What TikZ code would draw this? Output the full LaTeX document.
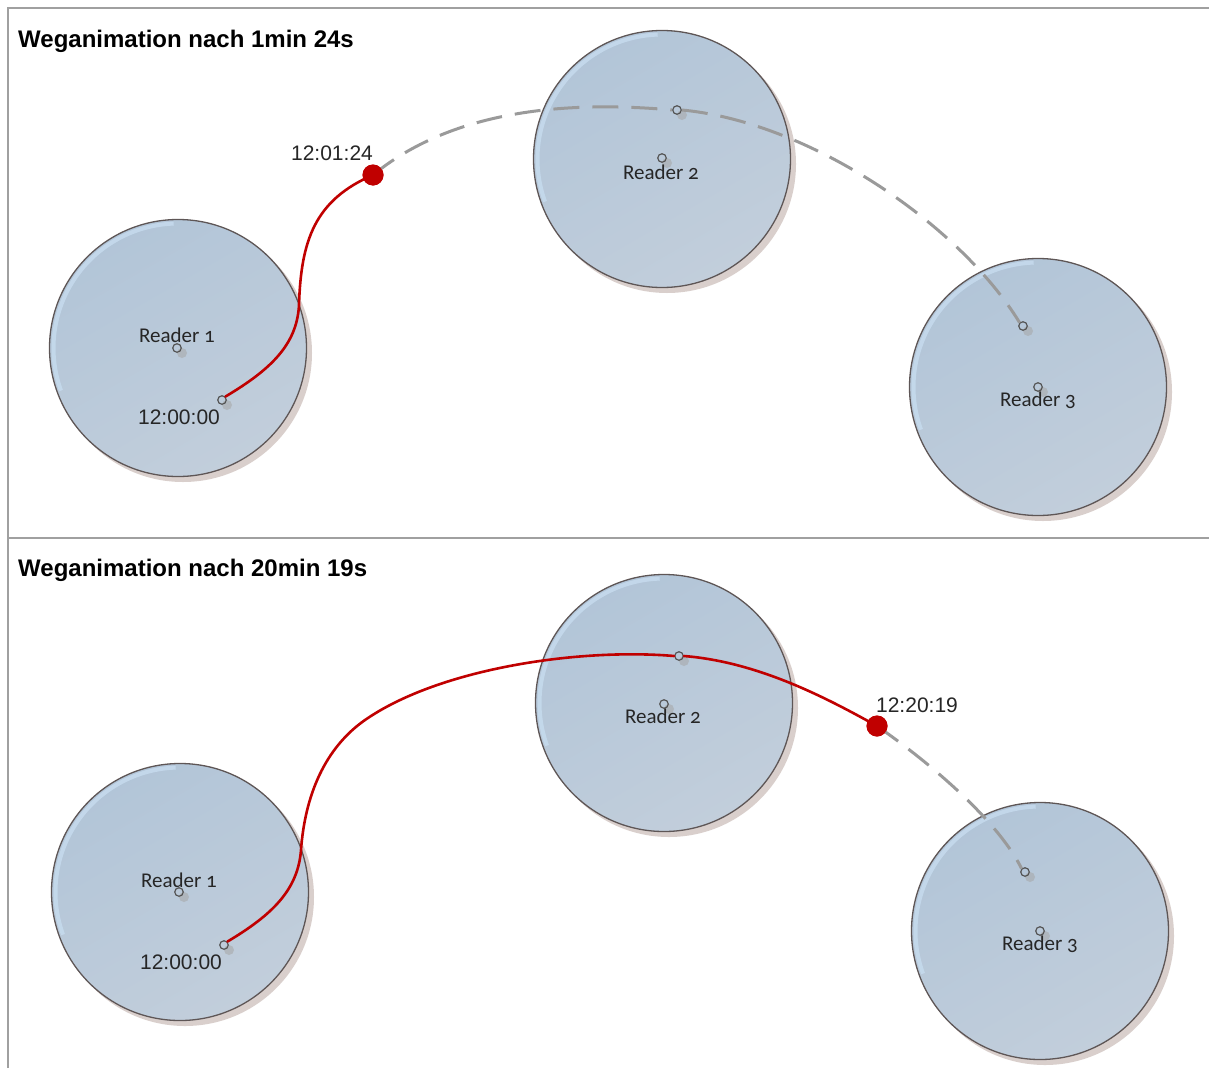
\documentclass[tikz,border=0pt]{standalone}
\usepackage{fontspec}
\setmainfont{Liberation Sans}
\newfontfamily\readerfont[Numbers=OldStyle]{Carlito}
\usetikzlibrary{calc}

\definecolor{framegray}{HTML}{A0A0A0}
\definecolor{rimgray}{HTML}{5E5656}
\definecolor{shadowtan}{HTML}{D9CFCC}
\definecolor{fillA}{HTML}{B2C5D8}
\definecolor{fillB}{HTML}{C2CEDB}
\definecolor{glow}{HTML}{C6DBEE}
\definecolor{trackred}{HTML}{C00000}
\definecolor{pathgray}{HTML}{9A9A9A}
\definecolor{ptgray}{HTML}{555555}

\tikzset{
  x=1pt, y=-1pt,
  frameline/.style={draw=framegray, line width=1.5pt},
  title/.style={font=\bfseries\fontsize{24}{28}\selectfont, anchor=base west, inner sep=0pt},
  readerlbl/.style={font=\readerfont\fontsize{21}{25}\selectfont, text=black!85, inner sep=0pt},
  timelbl/.style={font=\fontsize{21}{25}\selectfont, text=black!85, inner sep=0pt},
  zone/.style={circle, minimum size=257pt, inner sep=0pt},
  ptnode/.style={circle, minimum size=8.5pt, inner sep=0pt, draw=ptgray, line width=1.2pt},
  redtrack/.style={draw=trackred, line width=2.6pt, line cap=round},
  graytrack/.style={draw=pathgray, line width=3pt, dash pattern=on 26pt off 13pt},
  reddot/.style={circle, fill=trackred, minimum size=21pt, inner sep=0pt},
}

% reader zone: shadow, shaded disc, rim highlight and outline
\newcommand{\readerzone}[2]{%
  \fill[shadowtan] ($(#2)+(5,5)$) circle (129);
  \shade[top color=fillA, bottom color=fillB, shading angle=30] (#2) circle (128.5);
  \draw[glow, line width=4pt, opacity=0.85] ($(#2)+(-92:124.5)$) arc (-92:-200:124.5);
  \node[zone, draw=rimgray, line width=1.3pt] (#1) at (#2) {};
}
% small location marker with its soft drop shadow
\newcommand{\locpoint}[2]{%
  \fill[black!35, opacity=0.55] ($(#2)+(5,5)$) circle (5);
  \node[ptnode] (#1) at (#2) {};
}

\begin{document}
\begin{tikzpicture}
\useasboundingbox (0,0) rectangle (1209,1068);

% frame and divider
\coordinate (fbl) at (8,1068);
\coordinate (ftl) at (8,8);
\coordinate (ftr) at (1209,8);
\coordinate (ml) at (8,538);
\coordinate (mr) at (1209,538);
\draw[frameline] (fbl) -- (ftl) -- (ftr);
\draw[frameline] (ml) -- (mr);

% ---------- upper panel ----------
\node[title] (t1) at (18,47) {Weganimation nach 1min 24s};

\readerzone{a1}{178,348}
\readerzone{a2}{662,159}
\readerzone{a3}{1038,387}

\locpoint{ac1}{177,348}
\locpoint{ac2}{662,158}
\locpoint{ac3}{1038,387}
\locpoint{as}{222,400}
\locpoint{ap2}{677,110}
\locpoint{ap3}{1023,326}

\node[reddot] (ad) at (373,175) {};

\draw[graytrack] (ad.center) .. controls (450,112) and (560,100) .. (ap2.west);
\draw[graytrack] (ap2.east) .. controls (810,122) and (960,225) .. (ap3.north west);
\draw[redtrack] (as.north east) .. controls (270,370) and (297,345) .. (299,305)
  .. controls (301,240) and (315,200) .. (ad.center);
\node[reddot] at (ad) {};

\node[readerlbl] (al1) at (177,335) {Reader 1};
\node[readerlbl] (al2) at (661,172) {Reader 2};
\node[readerlbl] (al3) at (1038,400) {Reader 3};
\node[timelbl] (ats) at (179,417) {12:00:00};
\node[timelbl] (atd) at (332,153) {12:01:24};

% ---------- lower panel ----------
\node[title] (t2) at (18,576) {Weganimation nach 20min 19s};

\readerzone{b1}{180,892}
\readerzone{b2}{664,703}
\readerzone{b3}{1040,931}

\locpoint{bc1}{179,892}
\locpoint{bc2}{664,704}
\locpoint{bc3}{1040,931}
\locpoint{bs}{224,945}
\locpoint{bp2}{679,656}
\locpoint{bp3}{1025,872}

\node[reddot] (bd) at (877,726) {};

\draw[graytrack] (bd.center) .. controls (940,770) and (1000,825) .. (bp3.north west);
\draw[redtrack] (bs.north east) .. controls (272,915) and (298,890) .. (301,850)
  .. controls (305,795) and (325,748) .. (365,720)
  .. controls (440,668) and (580,648) .. (bp2.west);
\draw[redtrack] (bp2.east) .. controls (760,662) and (830,700) .. (bd.center);
\node[reddot] at (bd) {};

\node[readerlbl] (bl1) at (179,880) {Reader 1};
\node[readerlbl] (bl2) at (663,716) {Reader 2};
\node[readerlbl] (bl3) at (1040,944) {Reader 3};
\node[timelbl] (bts) at (181,962) {12:00:00};
\node[timelbl] (btd) at (917,705) {12:20:19};
\end{tikzpicture}
\end{document}
